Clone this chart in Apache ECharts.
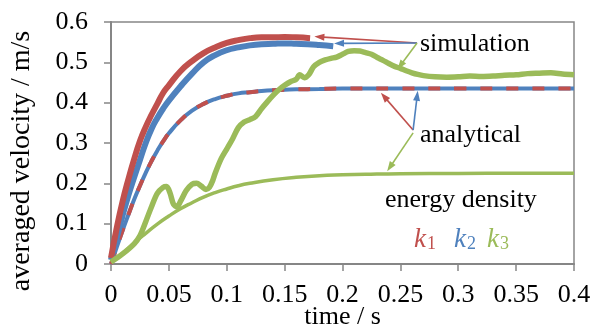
<!DOCTYPE html>
<html><head><meta charset="utf-8">
<script src="https://cdn.jsdelivr.net/npm/echarts@6/dist/echarts.min.js"></script>
<style>html,body{margin:0;padding:0;background:#fff;width:600px;height:329px;overflow:hidden}#c{width:600px;height:329px}</style>
</head><body><div id="c"></div>
<script>
// ---- data ----
const xTicks = [0, 0.4, 0.05];
const yTicks = [0, 0.6, 0.1];

const simK1_t = [0,0.005,0.01,0.015,0.02,0.025,0.03,0.035,0.04,0.045,0.05,0.06,0.07,0.08,0.09,0.1,0.11,0.12,0.13,0.14,0.15,0.16,0.172];
const simK1_v = [0.015,0.09,0.155,0.21,0.26,0.305,0.34,0.37,0.397,0.424,0.443,0.478,0.503,0.523,0.537,0.548,0.555,0.56,0.562,0.562,0.563,0.562,0.56];

const simK2_t = [0,0.005,0.01,0.015,0.02,0.025,0.03,0.035,0.04,0.045,0.05,0.06,0.07,0.08,0.09,0.1,0.11,0.12,0.13,0.14,0.15,0.16,0.17,0.18,0.192];
const simK2_v = [0.01,0.065,0.12,0.17,0.215,0.258,0.3,0.335,0.362,0.385,0.405,0.44,0.472,0.5,0.518,0.53,0.537,0.542,0.545,0.546,0.547,0.546,0.545,0.543,0.54];

const simK3_t = [0,0.01,0.02,0.025,0.03,0.035,0.04,0.045,0.048,0.051,0.054,0.057,0.06,0.065,0.07,0.074,0.078,0.082,0.085,0.088,0.09,0.095,0.1,0.105,0.11,0.115,0.12,0.125,0.13,0.135,0.14,0.145,0.15,0.155,0.16,0.163,0.167,0.171,0.175,0.18,0.185,0.19,0.195,0.2,0.205,0.21,0.215,0.22,0.225,0.23,0.235,0.24,0.245,0.25,0.255,0.26,0.265,0.27,0.28,0.29,0.3,0.31,0.32,0.33,0.34,0.35,0.36,0.37,0.38,0.39,0.4];
const simK3_v = [0.005,0.025,0.05,0.07,0.105,0.142,0.175,0.19,0.192,0.176,0.148,0.142,0.155,0.182,0.198,0.2,0.193,0.185,0.19,0.208,0.225,0.26,0.285,0.31,0.338,0.352,0.358,0.366,0.385,0.402,0.418,0.432,0.443,0.452,0.458,0.469,0.462,0.47,0.489,0.5,0.506,0.51,0.513,0.52,0.527,0.529,0.528,0.524,0.52,0.512,0.505,0.497,0.49,0.485,0.479,0.474,0.47,0.467,0.464,0.463,0.464,0.466,0.465,0.466,0.468,0.469,0.472,0.473,0.474,0.471,0.469];

const anaK12_t = [0,0.005,0.01,0.015,0.02,0.025,0.03,0.035,0.04,0.045,0.05,0.06,0.07,0.08,0.09,0.1,0.11,0.12,0.13,0.14,0.15,0.16,0.18,0.2,0.25,0.3,0.35,0.4];
const anaK12_v = [0,0.042,0.083,0.122,0.16,0.194,0.226,0.255,0.281,0.304,0.324,0.356,0.38,0.397,0.409,0.417,0.423,0.426,0.429,0.431,0.432,0.433,0.434,0.435,0.435,0.435,0.435,0.435];

const anaK3_t = [0,0.01,0.02,0.03,0.04,0.05,0.06,0.07,0.08,0.09,0.1,0.11,0.12,0.14,0.16,0.18,0.2,0.22,0.25,0.3,0.35,0.4];
const anaK3_v = [0.005,0.026,0.052,0.076,0.099,0.119,0.137,0.152,0.166,0.177,0.186,0.194,0.2,0.209,0.215,0.219,0.221,0.2225,0.224,0.2246,0.225,0.225];

// annotation arrows (data coordinates): [fromX, fromY, toX, toY]
const arrowSimK1 = [0.2644, 0.548, 0.180, 0.563];
const arrowSimK2 = [0.2644, 0.548, 0.197, 0.547];
const arrowSimK3 = [0.2644, 0.548, 0.250, 0.492];
const arrowAnaK1 = [0.261, 0.332, 0.236, 0.415];
const arrowAnaK2 = [0.261, 0.332, 0.2645, 0.417];
const arrowAnaK3 = [0.261, 0.325, 0.241, 0.24];

const RED = '#C0504D', BLUE = '#4F81BD', GREEN = '#9BBB59';
const FONT = 'Liberation Serif';

function pairs(t, v){ return t.map((x,i)=>[x, v[i]]); }
function arrow(a, color){
  const ls = {color: color, width: 1.6, type: 'solid'};
  return [
    {coord:[a[0],a[1]], symbol:'none', lineStyle: ls},
    {coord:[a[2],a[3]], symbol:'triangle', symbolSize:[7,10], lineStyle: ls}
  ];
}

const chart = echarts.init(document.getElementById('c'), null, {renderer:'canvas', width:600, height:329});
const axisColor = '#868686';
chart.setOption({
  animation: false,
  grid: {left:111, top:22, right:26, bottom:65, containLabel:false, outerBoundsMode:'none', show:true, borderColor: axisColor, borderWidth:1.5, backgroundColor:'transparent'},
  xAxis: {
    type:'value', min:xTicks[0], max:xTicks[1], interval:xTicks[2],
    name:'time / s', nameLocation:'middle', nameGap:40, nameMoveOverlap:false,
    nameTextStyle:{fontFamily:FONT, fontSize:26, color:'#000', verticalAlign:'top'},
    axisLine:{show:true, lineStyle:{color:axisColor, width:2}},
    axisTick:{show:true, length:7, lineStyle:{color:axisColor, width:1.5}},
    axisLabel:{fontFamily:FONT, fontSize:26, color:'#000', margin:18},
    splitLine:{show:false}
  },
  yAxis: {
    type:'value', min:yTicks[0], max:yTicks[1], interval:yTicks[2],
    axisLine:{show:true, lineStyle:{color:axisColor, width:2}},
    axisTick:{show:true, length:7, lineStyle:{color:axisColor, width:1.5}},
    axisLabel:{fontFamily:FONT, fontSize:26, color:'#000', margin:23, padding:[4,0,0,0]},
    splitLine:{show:false}
  },
  graphic: [
    {type:'text', x:22, y:161, rotation:Math.PI/2, style:{text:'averaged velocity / m/s', font:'28px "Liberation Serif"', fill:'#000', textAlign:'center', textVerticalAlign:'middle'}},
    {type:'text', x:420, y:44, style:{text:'simulation', font:'26px "Liberation Serif"', fill:'#000', textAlign:'left', textVerticalAlign:'middle'}},
    {type:'text', x:420, y:135, style:{text:'analytical', font:'26px "Liberation Serif"', fill:'#000', textAlign:'left', textVerticalAlign:'middle'}},
    {type:'text', x:385, y:200, style:{text:'energy density', font:'26px "Liberation Serif"', fill:'#000', textAlign:'left', textVerticalAlign:'middle'}},
    {type:'text', x:414, y:240, style:{text:'k', font:'italic 27px "Liberation Serif"', fill:RED, textAlign:'left', textVerticalAlign:'middle'}},
    {type:'text', x:427, y:244, style:{text:'1', font:'18px "Liberation Serif"', fill:RED, textAlign:'left', textVerticalAlign:'middle'}},
    {type:'text', x:454, y:240, style:{text:'k', font:'italic 27px "Liberation Serif"', fill:BLUE, textAlign:'left', textVerticalAlign:'middle'}},
    {type:'text', x:467, y:244, style:{text:'2', font:'18px "Liberation Serif"', fill:BLUE, textAlign:'left', textVerticalAlign:'middle'}},
    {type:'text', x:487, y:240, style:{text:'k', font:'italic 27px "Liberation Serif"', fill:GREEN, textAlign:'left', textVerticalAlign:'middle'}},
    {type:'text', x:500, y:244, style:{text:'3', font:'18px "Liberation Serif"', fill:GREEN, textAlign:'left', textVerticalAlign:'middle'}}
  ],
  series: [
    {name:'analytical k2', type:'line', data:pairs(anaK12_t, anaK12_v), showSymbol:false, smooth:true, lineStyle:{color:BLUE, width:4}, z:2, silent:true},
    {name:'analytical k1', type:'line', data:pairs(anaK12_t, anaK12_v), showSymbol:false, smooth:true, lineStyle:{color:RED, width:4, type:[12,14]}, z:3, silent:true},
    {name:'analytical k3', type:'line', data:pairs(anaK3_t, anaK3_v), showSymbol:false, smooth:true, lineStyle:{color:GREEN, width:3.5}, z:3, silent:true,
      markLine:{silent:true, animation:false, label:{show:false}, emphasis:{disabled:true},
        data:[arrow(arrowSimK1,RED), arrow(arrowSimK2,BLUE), arrow(arrowSimK3,GREEN), arrow(arrowAnaK1,RED), arrow(arrowAnaK2,BLUE), arrow(arrowAnaK3,GREEN)]}},
    {name:'simulation k2', type:'line', data:pairs(simK2_t, simK2_v), showSymbol:false, smooth:true, lineStyle:{color:BLUE, width:6}, z:4, silent:true},
    {name:'simulation k1', type:'line', data:pairs(simK1_t, simK1_v), showSymbol:false, smooth:true, lineStyle:{color:RED, width:6}, z:5, silent:true},
    {name:'simulation k3', type:'line', data:pairs(simK3_t, simK3_v), showSymbol:false, smooth:0.3, lineStyle:{color:GREEN, width:5.5}, z:5, silent:true}
  ]
});
</script></body></html>
